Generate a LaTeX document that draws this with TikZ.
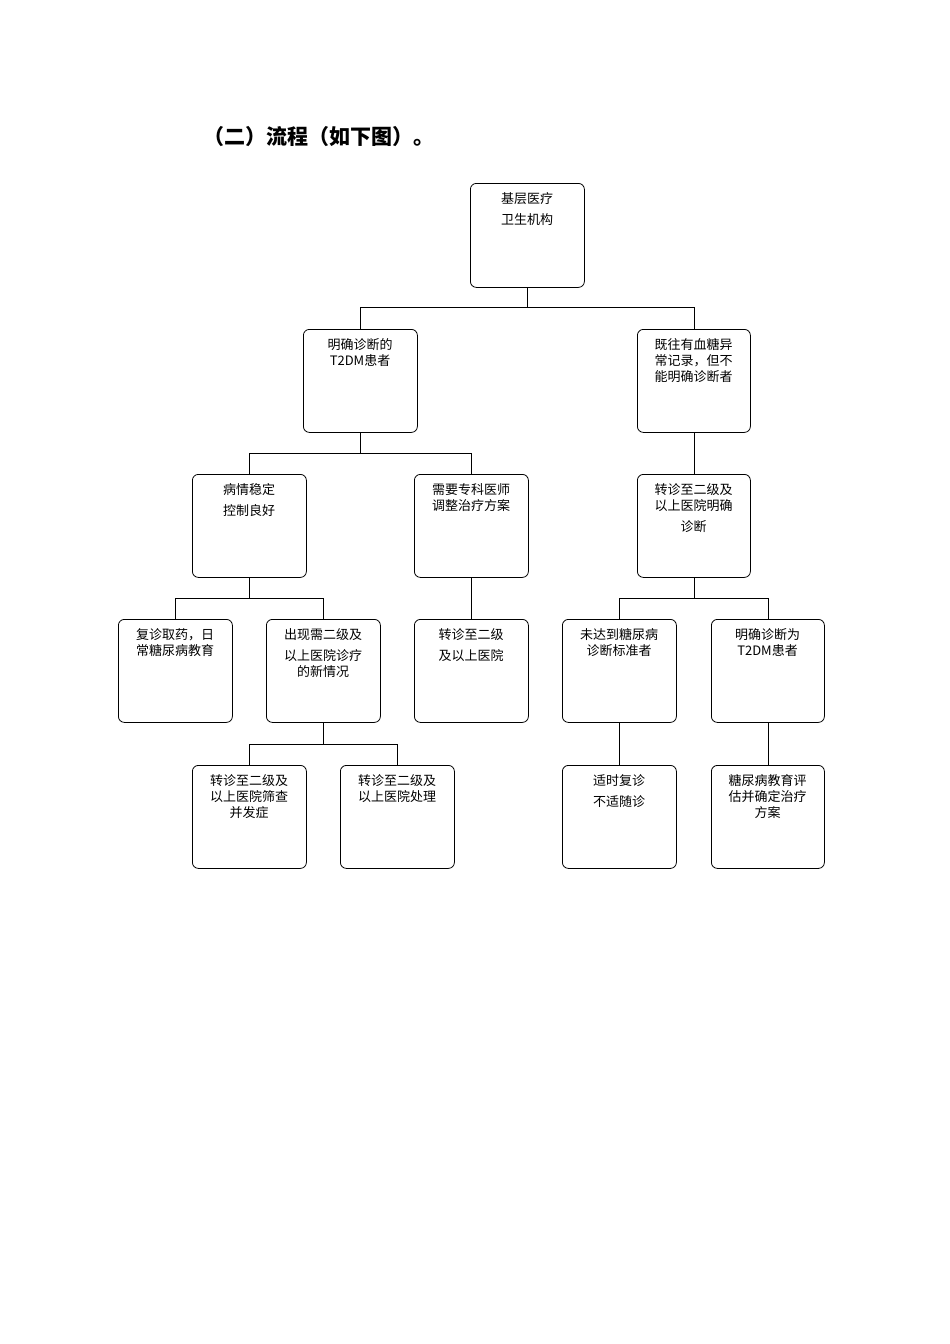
\documentclass[tikz,border=0pt]{standalone}
\usepackage{fontspec}
\setmainfont{Noto Sans CJK SC}
\begin{document}
\begin{tikzpicture}[x=1pt,y=-1pt,
  bx/.style={draw,rounded corners=6pt,line width=0.8pt,minimum width=114pt,minimum height=103pt,anchor=north west},
  tx/.style={anchor=north,align=center,font=\fontsize{13}{16}\selectfont,text width=100pt},
  ln/.style={line width=0.8pt}]
\useasboundingbox (0,0) rectangle (950,1344);
\node[anchor=west,font=\bfseries\fontsize{21}{24}\selectfont] (title) at (200,137) {（二）流程（如下图）。};
\newcommand{\bxx}[6]{\node[bx,minimum width=#4-#2,minimum height=#5-#3] (#1) at (#2,#3) {};
  \node[tx] (#1t) at ({(#2+#4)/2},#3+6) {#6};}
\bxx{root}{470}{183}{584}{287}{基层医疗\\[5pt]卫生机构}
\bxx{A}{303}{329}{417}{432}{明确诊断的\\T2DM患者}
\bxx{B}{637}{329}{750}{432}{既往有血糖异\\常记录，但不\\能明确诊断者}
\bxx{C}{192}{474}{306}{577}{病情稳定\\[5pt]控制良好}
\bxx{D}{414}{474}{528}{577}{需要专科医师\\调整治疗方案}
\bxx{E}{637}{474}{750}{577}{转诊至二级及\\以上医院明确\\[5pt]诊断}
\bxx{F}{118}{619}{232}{722}{复诊取药，日\\常糖尿病教育}
\bxx{G}{266}{619}{380}{722}{出现需二级及\\[5pt]以上医院诊疗\\的新情况}
\bxx{H}{414}{619}{528}{722}{转诊至二级\\[5pt]及以上医院}
\bxx{I}{562}{619}{676}{722}{未达到糖尿病\\诊断标准者}
\bxx{J}{711}{619}{824}{722}{明确诊断为\\T2DM患者}
\bxx{K}{192}{765}{306}{868}{转诊至二级及\\以上医院筛查\\并发症}
\bxx{L}{340}{765}{454}{868}{转诊至二级及\\以上医院处理}
\bxx{M}{562}{765}{676}{868}{适时复诊\\[5pt]不适随诊}
\bxx{N}{711}{765}{824}{868}{糖尿病教育评\\估并确定治疗\\方案}
\draw[ln] (root.south) -- ++(0,20) -| (A.north);
\draw[ln] (root.south) ++(0,20) -| (B.north);
\draw[ln] (A.south) -- ++(0,21) -| (C.north);
\draw[ln] (A.south) ++(0,21) -| (D.north);
\draw[ln] (B.south) -- (E.north);
\draw[ln] (C.south) -- ++(0,21) -| (F.north);
\draw[ln] (C.south) ++(0,21) -| (G.north);
\draw[ln] (D.south) -- (H.north);
\draw[ln] (E.south) -- ++(0,21) -| (I.north);
\draw[ln] (E.south) ++(0,21) -| (J.north);
\draw[ln] (G.south) -- ++(0,22) -| (K.north);
\draw[ln] (G.south) ++(0,22) -| (L.north);
\draw[ln] (I.south) -- (M.north);
\draw[ln] (J.south) -- (N.north);
\end{tikzpicture}
\end{document}
